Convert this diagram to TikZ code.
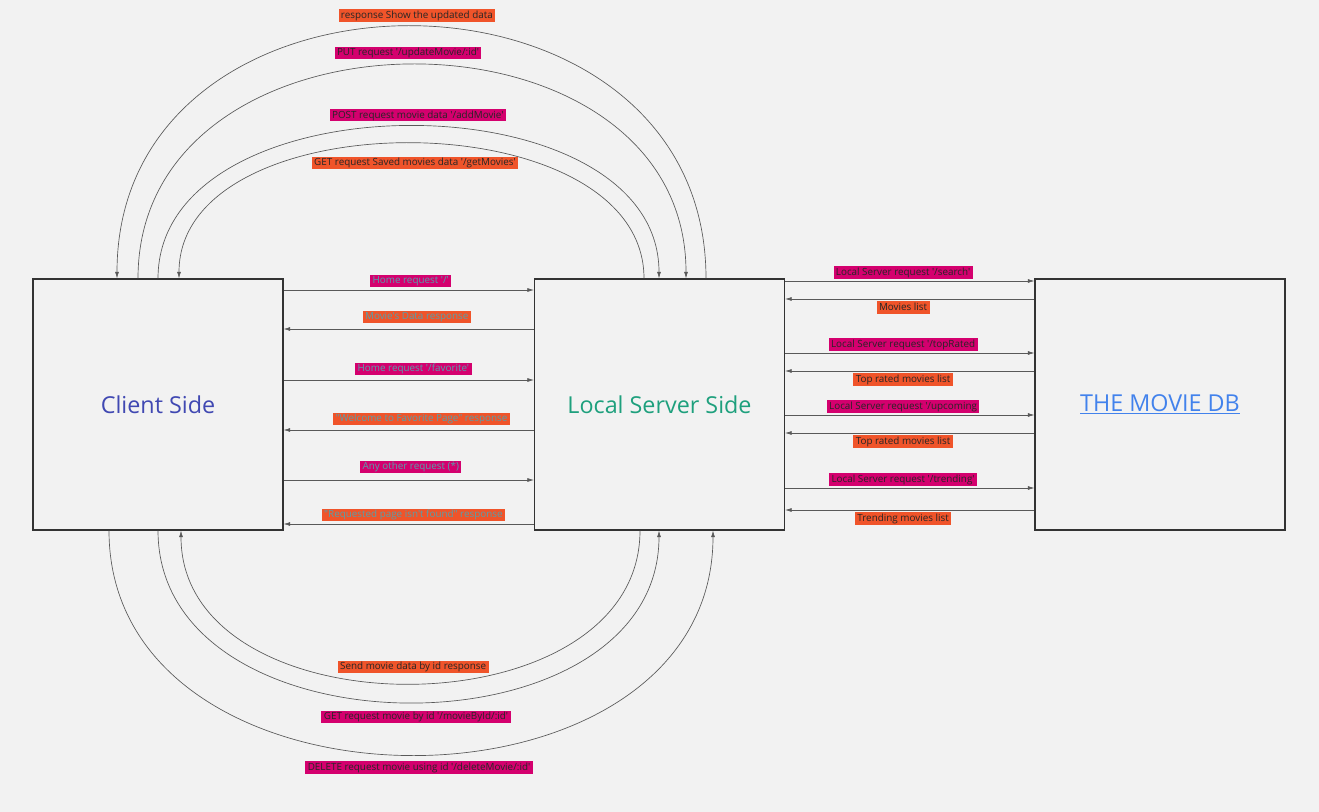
\documentclass[tikz,border=0pt]{standalone}
\usepackage{fontspec}
\setmainfont{Open Sans}[Ligatures=TeXOff]
\usetikzlibrary{arrows.meta}
\definecolor{bggray}{RGB}{242,242,242}
\definecolor{tagorange}{RGB}{240,84,42}
\definecolor{tagpink}{RGB}{212,0,110}
\definecolor{tealtext}{RGB}{86,160,172}
\definecolor{clientblue}{RGB}{64,72,178}
\definecolor{servergreen}{RGB}{30,160,125}
\definecolor{dblink}{RGB}{66,130,236}

\begin{document}
\begin{tikzpicture}[x=0.75pt,y=-0.75pt,
  side/.style={draw=black!80,line width=0.8pt,minimum width=187.5pt,minimum height=188.25pt,inner sep=0pt,font=\fontsize{17.5}{21}\selectfont},
  tag/.style={inner xsep=1.8pt,inner ysep=1pt,text height=5.6pt,text depth=1.6pt,font=\fontsize{7.4}{9}\selectfont,text=black!85},
  req/.style={tag,fill=tagpink},
  resp/.style={tag,fill=tagorange},
  teal/.style={text=tealtext},
  link/.style={draw=black!65,line width=0.5pt},
  tip/.style={link,-{Latex[length=5pt,width=3pt]}}]
\fill[bggray] (0,0) rectangle (1319,812);
\useasboundingbox (0,0) rectangle (1319,812);

\node[side,text=clientblue] (clientside) at (158,404.5) {Client Side};
\node[side,text=servergreen] (serverside) at (659.5,404.5) {Local Server Side};
\node[side,text=dblink] (moviedb) at (1160,404.5) {\underline{THE MOVIE DB}};

\draw[tip] (serverside.north -| 706,0) .. controls +(0,-336) and +(0,-336) .. (clientside.north -| 117,0) node[midway,above=3.3pt,xshift=4pt,resp] {response Show the updated data};
\draw[tip] (clientside.north -| 138,0) .. controls +(0,-285) and +(0,-285) .. (serverside.north -| 686,0) node[midway,above=4pt,xshift=-3pt,req] {PUT request '/updateMovie/:id'};
\draw[tip] (clientside.north -| 158,0) .. controls +(0,-203) and +(0,-203) .. (serverside.north -| 659,0) node[midway,above=3.3pt,xshift=7pt,req] {POST request movie data '/addMovie'};
\draw[tip] (serverside.north -| 644,0) .. controls +(0,-180) and +(0,-180) .. (clientside.north -| 179,0) node[midway,below=10pt,xshift=2.6pt,resp] {GET request Saved movies data '/getMovies'};

\draw[tip] (serverside.south -| 640,0) .. controls +(0,204) and +(0,204) .. (clientside.south -| 181,0) node[midway,above=7.8pt,xshift=2pt,resp] {Send movie data by id response};
\draw[tip] (clientside.south -| 158,0) .. controls +(0,229) and +(0,229) .. (serverside.south -| 659,0) node[midway,below=6.3pt,xshift=5.6pt,req] {GET request movie by id  '/movieById/:id'};
\draw[tip] (clientside.south -| 109,0) .. controls +(0,299) and +(0,299) .. (serverside.south -| 713,0) node[midway,below=4.7pt,xshift=6pt,req] {DELETE request movie using id '/deleteMovie/:id'};

\draw[tip] (clientside.east |- 0,290) -- (serverside.west |- 0,290) node[midway,above=1.8pt,xshift=1.5pt,req,teal] {Home request '/'};
\draw[tip] (serverside.west |- 0,329) -- (clientside.east |- 0,329) node[midway,above=4pt,xshift=6pt,resp,teal] {Movie's Data response};
\draw[tip] (clientside.east |- 0,380) -- (serverside.west |- 0,380) node[midway,above=3.3pt,xshift=3.5pt,req,teal] {Home request '/favorite'};
\draw[tip] (serverside.west |- 0,430) -- (clientside.east |- 0,430) node[midway,above=3.3pt,xshift=9.5pt,resp,teal] {"Welcome to Favorite Page" response};
\draw[tip] (clientside.east |- 0,480) -- (serverside.west |- 0,480) node[midway,above=4.8pt,xshift=1.5pt,req,teal] {Any other request (*)};
\draw[tip] (serverside.west |- 0,524) -- (clientside.east |- 0,524) node[midway,above=1.8pt,xshift=3.5pt,resp,teal] {"Requested page isn't found" response};

\draw[tip] (serverside.east |- 0,281) -- (moviedb.west |- 0,281) node[midway,above=1.6pt,xshift=-5pt,req] {Local Server request '/search'};
\draw[tip] (moviedb.west |- 0,299) -- (serverside.east |- 0,299) node[midway,below=1.6pt,xshift=-5pt,resp] {Movies list};
\draw[tip] (serverside.east |- 0,353) -- (moviedb.west |- 0,353) node[midway,above=1.6pt,xshift=-5pt,req] {Local Server request '/topRated};
\draw[tip] (moviedb.west |- 0,371) -- (serverside.east |- 0,371) node[midway,below=1.6pt,xshift=-5pt,resp] {Top rated movies list};
\draw[tip] (serverside.east |- 0,415) -- (moviedb.west |- 0,415) node[midway,above=1.6pt,xshift=-5pt,req] {Local Server  request '/upcoming};
\draw[tip] (moviedb.west |- 0,433) -- (serverside.east |- 0,433) node[midway,below=1.6pt,xshift=-5pt,resp] {Top rated movies list};
\draw[tip] (serverside.east |- 0,488) -- (moviedb.west |- 0,488) node[midway,above=1.6pt,xshift=-5pt,req] {Local Server request '/trending'};
\draw[tip] (moviedb.west |- 0,510) -- (serverside.east |- 0,510) node[midway,below=1.6pt,xshift=-5pt,resp] {Trending movies list};
\end{tikzpicture}
\end{document}
